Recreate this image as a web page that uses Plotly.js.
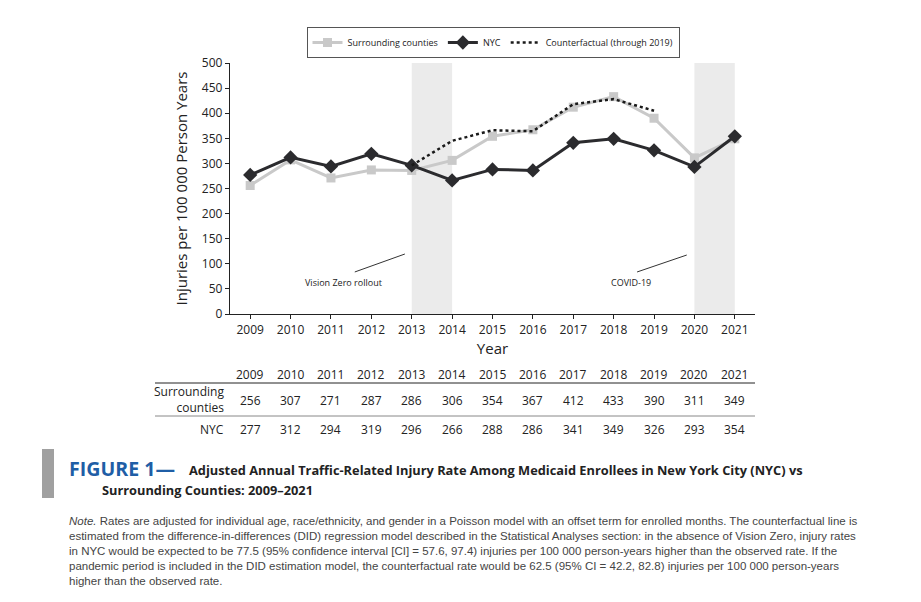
<!DOCTYPE html>
<html><head><meta charset="utf-8">
<script src="https://cdn.plot.ly/plotly-3.0.1.min.js"></script>
<style>html,body{margin:0;padding:0;background:#fff}#c{width:921px;height:602px}</style>
</head><body><div id="c"></div>
<script>
const years = [2009,2010,2011,2012,2013,2014,2015,2016,2017,2018,2019,2020,2021];
const surrounding = [256,307,271,287,286,306,354,367,412,433,390,311,349];
const nyc = [277,312,294,319,296,266,288,286,341,349,326,293,354];
const cfYears = [2013,2014,2015,2016,2017,2018,2019];
const counterfactual = [296,345,366,364,418,428,405];
const shadedPeriods = [[2013,2014],[2020,2021]];
const yTicks = [0,50,100,150,200,250,300,350,400,450,500];

const L=230, R=755, T=63, B=314, W=921, H=602;
const px = x => (x-L)/(R-L);
const py = y => (B-y)/(B-T);
const FONT = 'Open Sans, sans-serif';
const NOTEFONT = 'Liberation Sans, Arial, sans-serif';

const traces = [
  {x: years, y: surrounding, name: 'Surrounding counties', mode: 'lines+markers',
   line: {color: '#c9c9c9', width: 3}, marker: {symbol: 'square', size: 9, color: '#c9c9c9'}},
  {x: years, y: nyc, name: 'NYC', mode: 'lines+markers',
   line: {color: '#2b2b2e', width: 3}, marker: {symbol: 'diamond', size: 11, color: '#2b2b2e'}},
  {x: cfYears, y: counterfactual, name: 'Counterfactual (through 2019)', mode: 'lines',
   line: {color: '#1a1a1a', width: 2.5, dash: 'dot'}}
];

const shapes = shadedPeriods.map(p => ({type: 'rect', xref: 'x', yref: 'paper', x0: p[0], x1: p[1], y0: 0, y1: 1,
  fillcolor: '#ebebeb', line: {width: 0}, layer: 'below'}));
shapes.push({type:'line', xref:'x', yref:'y', x0:2011.59, y0:83.7, x1:2012.83, y1:119.5, line:{color:'#333', width:1}});
shapes.push({type:'line', xref:'x', yref:'y', x0:2018.58, y0:83.7, x1:2019.81, y1:117.5, line:{color:'#333', width:1}});
shapes.push({type:'line', xref:'paper', yref:'paper', x0:px(155), x1:px(755), y0:py(383), y1:py(383), line:{color:'#222', width:1}});
shapes.push({type:'line', xref:'paper', yref:'paper', x0:px(155), x1:px(755), y0:py(416), y1:py(416), line:{color:'#888', width:1}});
shapes.push({type:'rect', xref:'paper', yref:'paper', x0:px(42), x1:px(54), y0:py(498), y1:py(449), fillcolor:'#a0a0a0', line:{width:0}});

const annotations = [
  {x: 2011.3, y: 63.7, xref:'x', yref:'y', text:'Vision Zero rollout', showarrow:false, font:{family:FONT, size:9, color:'#222'}},
  {x: 2018.43, y: 63.7, xref:'x', yref:'y', text:'COVID-19', showarrow:false, font:{family:FONT, size:9, color:'#222'}}
];
const cell = (x, y, text, extra) => Object.assign({x, y, xref:'x', yref:'paper', xanchor:'center', yanchor:'middle', text, showarrow:false, font:{family:FONT, size:12, color:'#222'}}, extra||{});
years.forEach((yr,i) => {
  annotations.push(cell(yr, py(374), String(yr)));
  annotations.push(cell(yr, py(400), String(surrounding[i])));
  annotations.push(cell(yr, py(429), String(nyc[i])));
});
annotations.push(cell(px(226), py(399), 'Surrounding<br>counties', {xref:'paper', xanchor:'right', align:'right'}));
annotations.push(cell(px(226), py(429), 'NYC', {xref:'paper', xanchor:'right'}));
annotations.push({x: px(67), y: py(468), xref:'paper', yref:'paper', xanchor:'left', yanchor:'middle', text:'<b>FIGURE 1—</b>', showarrow:false, font:{family:FONT, size:19.6, color:'#1f5ea6'}});
annotations.push({x: px(187), y: py(470), xref:'paper', yref:'paper', xanchor:'left', yanchor:'middle', text:'<b>Adjusted Annual Traffic-Related Injury Rate Among Medicaid Enrollees in New York City (NYC) vs</b>', showarrow:false, font:{family:FONT, size:12.8, color:'#222'}});
annotations.push({x: px(100), y: py(490), xref:'paper', yref:'paper', xanchor:'left', yanchor:'middle', text:'<b>Surrounding Counties: 2009–2021</b>', showarrow:false, font:{family:FONT, size:12.8, color:'#222'}});
const noteLines = [
  '<i>Note.</i> Rates are adjusted for individual age, race/ethnicity, and gender in a Poisson model with an offset term for enrolled months. The counterfactual line is',
  'estimated from the difference-in-differences (DID) regression model described in the Statistical Analyses section: in the absence of Vision Zero, injury rates',
  'in NYC would be expected to be 77.5 (95% confidence interval [CI] = 57.6, 97.4) injuries per 100 000 person-years higher than the observed rate. If the',
  'pandemic period is included in the DID estimation model, the counterfactual rate would be 62.5 (95% CI = 42.2, 82.8) injuries per 100 000 person-years',
  'higher than the observed rate.'
];
noteLines.forEach((t,i) => annotations.push({x: px(67), y: py(521 + i*15), xref:'paper', yref:'paper', xanchor:'left', yanchor:'middle', text:t, showarrow:false, font:{family:NOTEFONT, size:11.5, color:'#444'}}));

const layout = {
  width: W, height: H,
  margin: {l: L, r: W-R, t: T, b: H-B, pad: 0},
  paper_bgcolor: '#fff', plot_bgcolor: '#fff',
  showlegend: true,
  legend: {orientation: 'h', x: px(493), xanchor: 'center', y: py(27), yanchor: 'top',
    bordercolor: '#555', borderwidth: 1, font: {family: FONT, size: 9, color: '#222'},
    tracegroupgap: 0},
  xaxis: {range: [2008.5, 2021.5], tickvals: years, ticktext: years.map(String), showgrid: false, zeroline: false,
    showline: true, linecolor: '#222', linewidth: 1.2, ticks: 'outside', ticklen: 4, tickcolor: '#222',
    tickfont: {family: FONT, size: 12, color: '#222'},
    title: {text: 'Year', font: {family: FONT, size: 15, color: '#222'}, standoff: 6}},
  yaxis: {range: [0, 500], tickvals: yTicks, showgrid: false, zeroline: false,
    showline: true, linecolor: '#222', linewidth: 1.2, ticks: 'outside', ticklen: 4, tickcolor: '#222',
    tickfont: {family: FONT, size: 12, color: '#222'},
    title: {text: 'Injuries per 100 000 Person Years', font: {family: FONT, size: 15, color: '#222'}, standoff: 10}},
  shapes: shapes,
  annotations: annotations
};
Plotly.newPlot('c', traces, layout, {displayModeBar: false, staticPlot: true});
</script></body></html>
